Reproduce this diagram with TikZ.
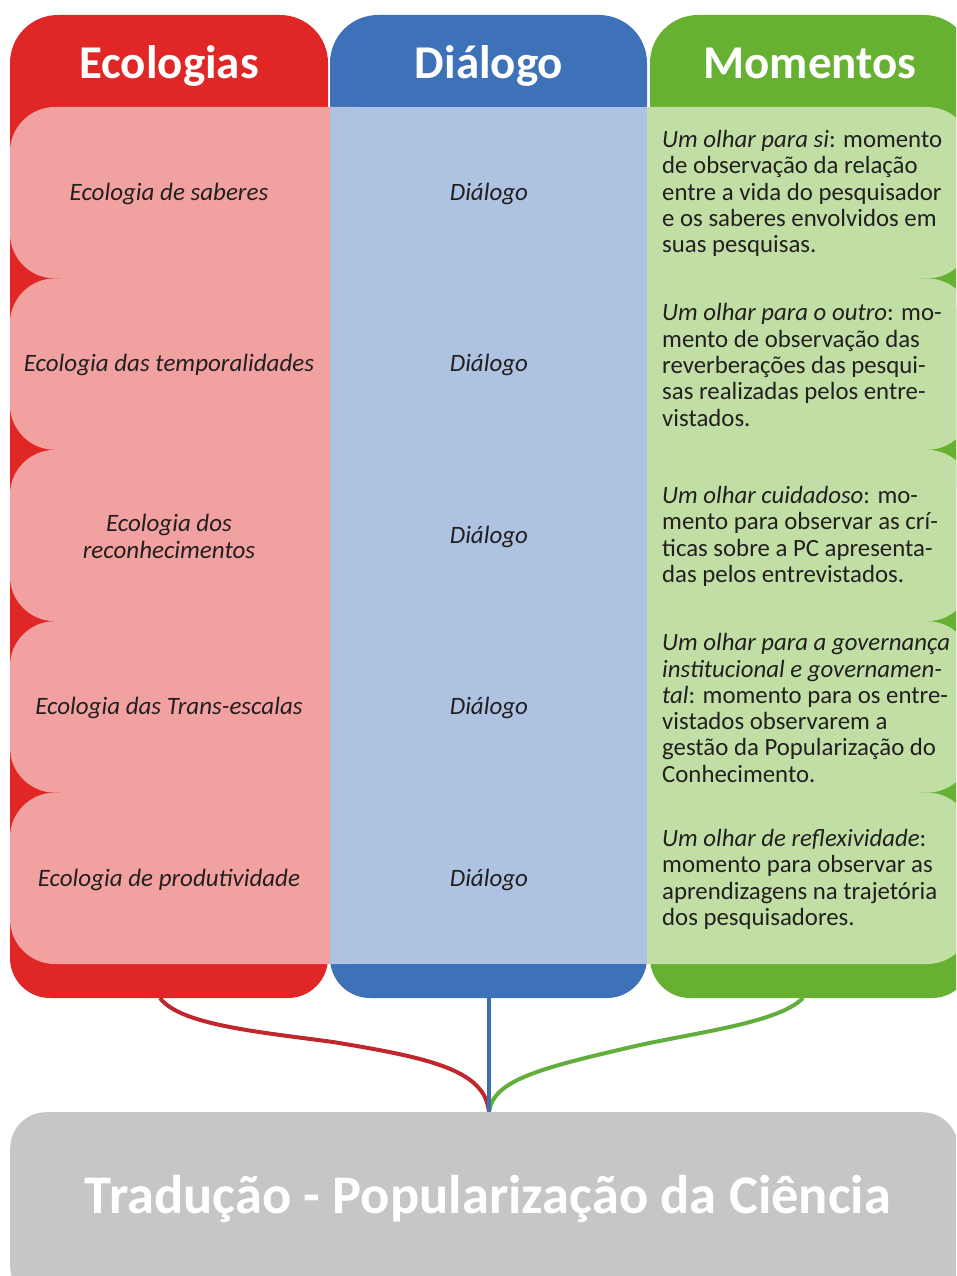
\documentclass[tikz,border=0pt]{standalone}
\usepackage{fontspec}
\setmainfont{Carlito}
\definecolor{cRed}{HTML}{E12726}
\definecolor{cPink}{HTML}{F2A1A1}
\definecolor{cBlue}{HTML}{3D72B8}
\definecolor{cLBlue}{HTML}{ADC3E1}
\definecolor{cGreen}{HTML}{66B132}
\definecolor{cLGreen}{HTML}{C1DFA5}
\definecolor{cGray}{HTML}{C6C6C4}
\definecolor{cRedLine}{HTML}{C0272D}
\definecolor{cBlueLine}{HTML}{3D6EB4}
\definecolor{cGreenLine}{HTML}{62AE3C}
\definecolor{txt}{HTML}{231F20}
\begin{document}
\begin{tikzpicture}[x=1pt,y=-1pt,
  hdr/.style={text=white,font=\bfseries\fontsize{47}{52}\selectfont,inner sep=0pt,anchor=base},
  ecotxt/.style={text=txt,font=\itshape\fontsize{25}{26.3}\selectfont,align=center,inner sep=0pt},
  momtxt/.style={text=txt,font=\fontsize{24.8}{26.3}\selectfont,align=left,anchor=west,inner sep=0pt},
  link/.style={line width=4pt},
]
\useasboundingbox (0,0) rectangle (956,1276);
\clip (0,0) rectangle (956,1276);
% dark columns
\fill[cRed,rounded corners=48pt] (10,15) rectangle (328,500);
\fill[cRed,rounded corners=40pt] (10,300) rectangle (328,998);
\fill[cBlue,rounded corners=48pt] (330,15) rectangle (647,500);
\fill[cBlue,rounded corners=40pt] (330,300) rectangle (647,998);
\fill[cGreen,rounded corners=48pt] (650,15) rectangle (972,500);
\fill[cGreen,rounded corners=40pt] (650,300) rectangle (972,998);
% scalloped rows
\fill[cPink] (60,150) rectangle (400,920);
\fill[cLGreen] (600,150) rectangle (920,920);
\foreach \t in {107,278.4,449.8,621.2,792.6}{
  \fill[cPink,rounded corners=45pt] (10,\t) rectangle (400,\t+171.4);
  \fill[cLGreen,rounded corners=45pt] (600,\t) rectangle (972,\t+171.4);
}
\fill[cLBlue] (330,107) rectangle (647,964);
% connectors
\coordinate (rb) at (160,998);
\coordinate (bb) at (489,998);
\coordinate (gb) at (803,998);
\coordinate (join) at (489,1113);
\draw[link,cRedLine] (rb) .. controls (180,1025) and (260,1032) .. (333,1042) .. controls (430,1058) and (486,1070) .. (join);
\draw[link,cGreenLine] (gb) .. controls (780,1022) and (700,1032) .. (640,1045) .. controls (540,1068) and (492,1080) .. (join);
\draw[link,cBlueLine] (bb) -- (join);
% bottom box
\node[fill=cGray,rounded corners=36pt,minimum width=948pt,minimum height=190pt,anchor=north west,inner sep=0pt] (trad) at (10,1112) {};
\node[text=white,font=\bfseries\fontsize{54.5}{58}\selectfont,anchor=base] (tradtxt) at (488,1213) {Tradução - Popularização da Ciência};
% headers
\node[hdr] (hEco) at (169,79) {Ecologias};
\node[hdr] (hDia) at (489,79) {Diálogo};
\node[hdr] (hMom) at (810,79) {Momentos};
% left column
\node[ecotxt] (e1) at (169,193.5) {Ecologia de saberes};
\node[ecotxt] (e2) at (169,365) {Ecologia das temporalidades};
\node[ecotxt] (e3) at (169,536.5) {Ecologia dos\\reconhecimentos};
\node[ecotxt] (e4) at (169,708) {Ecologia das Trans-escalas};
\node[ecotxt] (e5) at (169,879.5) {Ecologia de produtividade};
% middle column
\node[ecotxt] (d1) at (489,193.5) {Diálogo};
\node[ecotxt] (d2) at (489,365) {Diálogo};
\node[ecotxt] (d3) at (489,536.5) {Diálogo};
\node[ecotxt] (d4) at (489,708) {Diálogo};
\node[ecotxt] (d5) at (489,879.5) {Diálogo};
% right column
\node[momtxt] (m1) at (662,193.5) {\textit{Um olhar para si}: momento\\de observação da relação\\entre a vida do pesquisador\\e os saberes envolvidos em\\suas pesquisas.};
\node[momtxt] (m2) at (662,365) {\textit{Um olhar para o outro}: mo-\\mento de observação das\\reverberações das pesqui-\\sas realizadas pelos entre-\\vistados.};
\node[momtxt] (m3) at (662,536.5) {\textit{Um olhar cuidadoso}: mo-\\mento para observar as crí-\\ticas sobre a PC apresenta-\\das pelos entrevistados.};
\node[momtxt] (m4) at (662,708) {\textit{Um olhar para a governança}\\\textit{institucional e governamen-}\\\textit{tal}: momento para os entre-\\vistados observarem a\\gestão da Popularização do\\Conhecimento.};
\node[momtxt] (m5) at (662,879.5) {\textit{Um olhar de reflexividade}:\\momento para observar as\\aprendizagens na trajetória\\dos pesquisadores.};
\end{tikzpicture}
\end{document}
